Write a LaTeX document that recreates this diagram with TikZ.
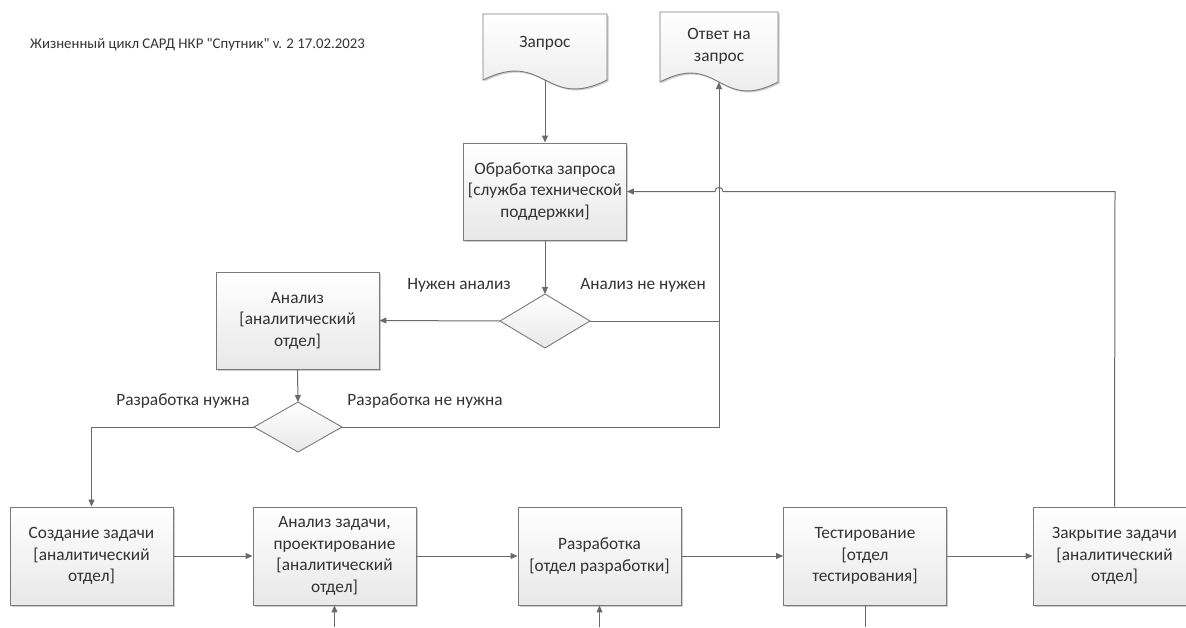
\documentclass[tikz,border=0pt]{standalone}
\usepackage{fontspec}
\setmainfont{Carlito}
\newfontfamily\titlefont{Carlito}[Ligatures=TeXOff]
\usetikzlibrary{arrows.meta,shadows}
\definecolor{ln}{HTML}{6A6A6A}
\definecolor{bd}{HTML}{7A7A7A}
\definecolor{tx}{HTML}{333333}
\tikzset{
  proc/.style={draw=bd, line width=0.9pt, top color=white, bottom color=black!9,
    minimum width=163, minimum height=97, align=center, text=tx,
    font=\fontsize{17.3}{21.5}\selectfont,
    drop shadow={shadow xshift=1.5pt, shadow yshift=-1.5pt, fill=black!40, opacity=0.5}},
  dec/.style={draw=bd, line width=0.9pt, top color=white, bottom color=black!9},
  lbl/.style={text=tx, font=\fontsize{17.3}{21.5}\selectfont},
  conn/.style={draw=ln, line width=1pt},
  arr/.style={conn, -{Triangle[length=7pt,width=6pt]}},
}
\begin{document}
\begin{tikzpicture}[x=1pt,y=-1pt]
\useasboundingbox (0,0) rectangle (1186,627);
% title
\node[anchor=west, text=tx, font=\titlefont\fontsize{14.8}{17}\selectfont, inner sep=0] (title) at (30,45) {Жизненный цикл САРД НКР "Спутник" v. 2 17.02.2023};
% documents
\fill[black!40, opacity=0.5, xshift=1.5pt, yshift=-1.5pt] (483,14) -- (607,14) -- (607,80) .. controls (545,111) and (545,49) .. (483,80) -- cycle;
\path[dec] (483,14) -- (607,14) -- (607,80) .. controls (545,111) and (545,49) .. (483,80) -- cycle;
\node[lbl] (zapros) at (545,43) {Запрос};
\coordinate (zb) at (545,80);
\fill[black!40, opacity=0.5, xshift=1.5pt, yshift=-1.5pt] (660,12) -- (778,12) -- (778,82) .. controls (719,113) and (719,51) .. (660,82) -- cycle;
\path[dec] (660,12) -- (778,12) -- (778,82) .. controls (719,113) and (719,51) .. (660,82) -- cycle;
\node[lbl, align=center, font=\fontsize{17.3}{22}\selectfont] (otvet) at (719,46) {Ответ на\\запрос};
\coordinate (ob) at (719,82);
% process boxes
\node[proc] (obr) at (545,191.5) {Обработка запроса\\{[}служба технической\\поддержки{]}};
\node[proc] (an) at (297.5,320.5) {Анализ\\{[}аналитический\\отдел{]}};
\node[proc, minimum height=98] (sozd) at (91.5,556) {Создание задачи\\{[}аналитический\\отдел{]}};
\node[proc, minimum height=98] (anz) at (334.5,556) {Анализ задачи,\\проектирование\\{[}аналитический\\отдел{]}};
\node[proc, minimum height=98] (razr) at (599.5,556) {Разработка\\{[}отдел разработки{]}};
\node[proc, minimum height=98] (test) at (865,556) {Тестирование\\{[}отдел\\тестирования{]}};
\node[proc, minimum height=98] (zakr) at (1114.5,556) {Закрытие задачи\\{[}аналитический\\отдел{]}};
% diamonds
\coordinate (d1) at (545,321);
\path[dec] (500,321) -- (545,294) -- (590,321) -- (545,348) -- cycle;
\coordinate (d1w) at (500,321); \coordinate (d1e) at (590,321);
\coordinate (d1n) at (545,294);
\coordinate (d2) at (298,427);
\path[dec] (254,427) -- (298,402) -- (342,427) -- (298,452) -- cycle;
\coordinate (d2w) at (254,427); \coordinate (d2e) at (342,427);
\coordinate (d2n) at (298,402);
% labels
\node[lbl] (l1) at (459,285) {Нужен анализ};
\node[lbl] (l2) at (643,285) {Анализ не нужен};
\node[lbl] (l3) at (183,401) {Разработка нужна};
\node[lbl] (l4) at (425,401) {Разработка не нужна};
% connectors
\draw[arr] (zb) -- (obr.north);
\draw[arr] (obr.south) -- (d1n);
\draw[arr] (d1w) -- (an.east);
\coordinate (j1) at (719,321);
\draw[conn] (d1e) -- (j1);
\draw[arr] (an.south) -- (d2n);
\draw[arr] (d2e) -| (ob);
\draw[arr] (d2w) -| (sozd.north);
\draw[arr] (sozd) -- (anz);
\draw[arr] (anz) -- (razr);
\draw[arr] (razr) -- (test);
\draw[arr] (test) -- (zakr);
\coordinate (c1) at (1115,191.5);
\coordinate (h1) at (723,191.5);
\coordinate (h2) at (715,191.5);
\draw[arr] (zakr.north) -- (c1) -- (h1) .. controls (723,186) and (715,186) .. (h2) -- (obr.east);
\coordinate (in1) at (334.5,627);
\coordinate (in2) at (599.5,627);
\coordinate (out1) at (865,627);
\draw[arr] (in1) -- (anz.south);
\draw[arr] (in2) -- (razr.south);
\draw[conn] (test.south) -- (out1);
\end{tikzpicture}
\end{document}
